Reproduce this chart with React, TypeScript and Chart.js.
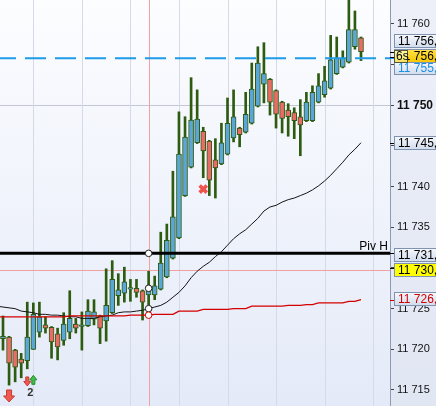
import React, { useEffect, useRef } from 'react';
import { Chart, registerables } from 'chart.js';

Chart.register(...registerables);

// ---- candle data (index 0..59) ----
const openP = [
  11721.3, 11721.5, 11719.9, 11718.8, 11718.6, 11720.0, 11722.1, 11723.0, 11722.7, 11721.9,
  11721.1, 11722.1, 11723.1, 11722.8, 11722.9, 11723.7, 11724.1, 11723.5, 11724.5, 11726.6,
  11726.9, 11727.4, 11727.5, 11727.2, 11726.7, 11726.7, 11727.4, 11728.9, 11731.2, 11733.7,
  11738.9, 11742.4, 11745.4, 11746.8, 11745.6, 11743.3, 11742.8, 11744.0, 11746.0, 11747.2,
  11746.7, 11747.8, 11749.9, 11752.6, 11753.2, 11751.8, 11750.4, 11749.4, 11749.1, 11748.6,
  11748.1, 11748.1, 11750.4, 11751.3, 11752.1, 11753.9, 11754.7, 11755.3, 11757.2, 11758.3,
];
const highP = [
  11724.1, 11721.6, 11720.0, 11719.5, 11725.8, 11725.7, 11725.8, 11724.0, 11722.8, 11722.6,
  11724.5, 11727.2, 11723.8, 11724.6, 11726.1, 11726.1, 11724.2, 11729.9, 11730.9, 11729.3,
  11730.1, 11728.6, 11728.6, 11727.3, 11729.6, 11729.0, 11734.4, 11735.4, 11741.9, 11749.2,
  11748.6, 11753.4, 11751.9, 11747.3, 11745.7, 11745.9, 11747.8, 11750.9, 11751.9, 11747.3,
  11751.6, 11755.2, 11757.2, 11757.7, 11753.3, 11751.9, 11750.5, 11750.2, 11749.7, 11750.7,
  11751.6, 11752.4, 11753.9, 11754.8, 11758.6, 11758.4, 11756.7, 11763.5, 11761.6, 11758.4,
];
const lowP = [
  11719.9, 11715.6, 11716.0, 11716.5, 11717.6, 11720.0, 11721.5, 11722.0, 11718.9, 11718.7,
  11720.5, 11721.3, 11722.0, 11719.9, 11722.8, 11723.0, 11720.7, 11721.0, 11724.4, 11725.4,
  11725.8, 11725.9, 11726.4, 11723.6, 11725.4, 11726.1, 11727.3, 11728.8, 11731.1, 11733.6,
  11738.8, 11742.3, 11745.3, 11741.1, 11738.9, 11738.6, 11742.7, 11743.9, 11745.5, 11744.9,
  11746.6, 11747.7, 11749.8, 11750.3, 11748.8, 11747.2, 11746.6, 11746.2, 11745.9, 11743.8,
  11748.0, 11748.0, 11750.3, 11751.0, 11752.0, 11753.8, 11754.6, 11755.2, 11756.9, 11755.5,
];
const closeP = [
  11721.6, 11718.3, 11717.8, 11718.3, 11721.5, 11724.3, 11724.0, 11722.6, 11720.9, 11720.3,
  11723.1, 11723.8, 11722.6, 11723.0, 11724.7, 11724.6, 11722.6, 11725.4, 11728.6, 11727.3,
  11728.3, 11727.6, 11727.0, 11725.8, 11727.5, 11727.8, 11730.6, 11733.4, 11736.3, 11744.0,
  11746.1, 11748.2, 11748.3, 11744.4, 11740.8, 11742.3, 11745.4, 11747.8, 11748.6, 11746.4,
  11748.9, 11752.0, 11755.2, 11753.9, 11750.4, 11748.9, 11748.4, 11748.6, 11748.1, 11747.6,
  11750.4, 11751.6, 11752.4, 11753.0, 11755.6, 11755.8, 11755.8, 11759.3, 11759.3, 11756.6,
];

// ---- moving averages (start one bar before candle 0) ----
const maStartIndex = -1;
const blackMA = [
  11725.3,
  11725.2, 11725.1, 11725.0, 11724.7, 11724.6, 11724.5, 11724.3, 11724.3, 11724.2, 11724.2,
  11724.1, 11724.0, 11724.0, 11723.8, 11723.8, 11723.8, 11724.0, 11724.1, 11724.2, 11724.5,
  11724.6, 11724.6, 11724.7, 11724.8, 11725.0, 11725.2, 11725.4, 11725.8, 11726.4, 11727.0,
  11727.8, 11728.8, 11729.6, 11730.2, 11730.7, 11731.4, 11732.0, 11732.8, 11733.6, 11734.2,
  11734.7, 11735.4, 11736.1, 11737.0, 11737.5, 11737.7, 11738.1, 11738.4, 11738.6, 11738.9,
  11739.2, 11739.6, 11740.1, 11740.7, 11741.4, 11742.2, 11743.0, 11743.9, 11744.6, 11745.4,
];
const redMA = [
  11724.0,
  11724.0, 11724.0, 11724.0, 11724.0, 11724.0, 11724.0, 11724.0, 11724.0, 11724.0, 11724.0,
  11724.0, 11724.1, 11724.1, 11724.1, 11724.1, 11724.1, 11724.1, 11724.1, 11724.1, 11724.1,
  11724.1, 11724.2, 11724.2, 11724.2, 11724.2, 11724.3, 11724.3, 11724.3, 11724.3, 11724.7,
  11724.7, 11724.7, 11724.7, 11724.9, 11724.9, 11724.9, 11724.9, 11724.9, 11725.0, 11725.0,
  11725.0, 11725.3, 11725.3, 11725.3, 11725.3, 11725.3, 11725.3, 11725.4, 11725.4, 11725.4,
  11725.5, 11725.5, 11725.7, 11725.7, 11725.7, 11725.7, 11725.7, 11725.9, 11725.9, 11726.1,
];

// ---- axes ----
const yMin = 11713.03;
const yMax = 11762.95;
const xMin = -0.494;
const xMax = 63.78;
const yTicks = [11715, 11720, 11725, 11730, 11735, 11740, 11745, 11750, 11755, 11760];
const boldTick = 11750;
const gridX = [5, 13, 21, 29, 37, 45, 53, 61];

// ---- levels & markers ----
const pivotH = 11731.8;
const pivotName = 'Piv H';
const dashedLevel = 11755.8;
const cursorIndex = 24;
const cursorPrice = 11729.8;
const crossIndex = 33;
const crossPrice = 11739.7;
const signalIndex = [1, 4, 5];
const signalPrice = [11715.0, 11716.6, 11716.8];
const signalDir = ['down', 'down', 'up'];
const countIndex = 4.5;
const countPrice = 11714.2;
const countText = '2';
const timerText = '6s';

// ---- right-axis value labels ----
const labelValues = [11755.8, 11756.6, 11756.0, 11745.4, 11731.8, 11730.0, 11726.1];
const labelLook = [
  { shift: 9, fill: 'plain', text: '#1a8fe3', tick: '#1a8fe3' },
  { shift: -11, fill: 'plain', text: '#000', tick: '#000' },
  { shift: -1, fill: 'gold', text: '#000', tick: '#000' },
  { shift: 0, fill: 'plain', text: '#000', tick: '#000' },
  { shift: 1, fill: 'plain', text: '#000', tick: '#000' },
  { shift: 2, fill: 'yellow', text: '#000', tick: '#000' },
  { shift: -1, fill: 'plain', text: '#d00000', tick: '#d00000' },
];

const FONT = "'Liberation Sans', Arial, Helvetica, sans-serif";
const UP = '#5aa7d7';
const DOWN = '#ea6c66';
const WICK = '#2d5b10';

const fmtNum = (v: number, d: number) => {
  const s = v.toFixed(d);
  const [ip, fp] = s.split('.');
  const sp = ip.replace(/\B(?=(\d{3})+(?!\d))/g, ' ');
  return fp !== undefined ? sp + ',' + fp : sp;
};

const overlay = {
  id: 'overlay',
  beforeDraw(chart: any) {
    const { ctx, chartArea: a, width, height } = chart;
    ctx.save();
    const g1 = ctx.createLinearGradient(0, 0, 0, height);
    g1.addColorStop(0, '#edf0f9');
    g1.addColorStop(1, '#e1e6f3');
    ctx.fillStyle = g1;
    ctx.fillRect(0, 0, width, height);
    const g2 = ctx.createLinearGradient(0, a.top, 0, a.bottom);
    g2.addColorStop(0, '#fcfdff');
    g2.addColorStop(1, '#e4eaf8');
    ctx.fillStyle = g2;
    ctx.fillRect(a.left, a.top, a.right - a.left, a.bottom - a.top);
    ctx.restore();
  },
  beforeDatasetsDraw(chart: any) {
    const { ctx, chartArea: a, scales } = chart;
    const x = scales.x, y = scales.y;
    ctx.save();
    ctx.lineWidth = 1;
    ctx.strokeStyle = '#d5dae8';
    gridX.forEach((g) => {
      const px = Math.round(x.getPixelForValue(g)) + 0.5;
      ctx.beginPath();
      ctx.moveTo(px, a.top);
      ctx.lineTo(px, a.bottom);
      ctx.stroke();
    });
    ctx.strokeStyle = '#f3a0a0';
    const cx = Math.round(x.getPixelForValue(cursorIndex)) + 0.5;
    ctx.beginPath();
    ctx.moveTo(cx, a.top);
    ctx.lineTo(cx, a.bottom);
    ctx.stroke();
    const cy = Math.round(y.getPixelForValue(cursorPrice)) + 0.5;
    ctx.beginPath();
    ctx.moveTo(a.left, cy);
    ctx.lineTo(a.right, cy);
    ctx.stroke();
    ctx.restore();
  },
  afterDatasetsDraw(chart: any) {
    const { ctx, chartArea: a, scales } = chart;
    const x = scales.x, y = scales.y;
    ctx.save();
    ctx.beginPath();
    ctx.rect(a.left, a.top, a.right - a.left, a.bottom - a.top);
    ctx.clip();

    // pivot line
    const py = y.getPixelForValue(pivotH);
    ctx.strokeStyle = '#000';
    ctx.lineWidth = 3;
    ctx.beginPath();
    ctx.moveTo(a.left, py);
    ctx.lineTo(a.right, py);
    ctx.stroke();
    ctx.fillStyle = '#000';
    ctx.font = `12px ${FONT}`;
    ctx.textAlign = 'right';
    ctx.textBaseline = 'alphabetic';
    ctx.fillText(pivotName, a.right - 2, py - 3);

    // dashed level
    const dy = y.getPixelForValue(dashedLevel);
    ctx.strokeStyle = '#1e9be9';
    ctx.lineWidth = 2;
    ctx.setLineDash([21, 9]);
    ctx.lineDashOffset = 5;
    ctx.beginPath();
    ctx.moveTo(a.left, dy);
    ctx.lineTo(a.right, dy);
    ctx.stroke();
    ctx.setLineDash([]);

    // cursor circles
    const cx = x.getPixelForValue(cursorIndex);
    const circ = [
      { v: pivotH, c: '#222' },
      { v: closeP[cursorIndex], c: '#222' },
      { v: blackMA[cursorIndex - maStartIndex], c: '#222' },
      { v: redMA[cursorIndex - maStartIndex], c: '#d40000' },
    ];
    circ.forEach((o) => {
      ctx.beginPath();
      ctx.arc(cx, y.getPixelForValue(o.v), 3.3, 0, Math.PI * 2);
      ctx.fillStyle = '#fff';
      ctx.fill();
      ctx.lineWidth = 1;
      ctx.strokeStyle = o.c;
      ctx.stroke();
    });

    // signal arrows
    signalIndex.forEach((si, k) => {
      const ax = x.getPixelForValue(si);
      const ay = y.getPixelForValue(signalPrice[k]);
      const big = k === 0;
      const w = big ? 11 : 7;
      const h = big ? 12 : 9;
      const sw = big ? 5 : 3;
      ctx.beginPath();
      if (signalDir[k] === 'down') {
        ctx.moveTo(ax - sw / 2, ay);
        ctx.lineTo(ax + sw / 2, ay);
        ctx.lineTo(ax + sw / 2, ay + h * 0.5);
        ctx.lineTo(ax + w / 2, ay + h * 0.5);
        ctx.lineTo(ax, ay + h);
        ctx.lineTo(ax - w / 2, ay + h * 0.5);
        ctx.lineTo(ax - sw / 2, ay + h * 0.5);
        ctx.closePath();
        ctx.fillStyle = '#ef5a50';
        ctx.strokeStyle = '#c43a30';
      } else {
        ctx.moveTo(ax, ay);
        ctx.lineTo(ax + w / 2, ay + h * 0.5);
        ctx.lineTo(ax + sw / 2, ay + h * 0.5);
        ctx.lineTo(ax + sw / 2, ay + h);
        ctx.lineTo(ax - sw / 2, ay + h);
        ctx.lineTo(ax - sw / 2, ay + h * 0.5);
        ctx.lineTo(ax - w / 2, ay + h * 0.5);
        ctx.closePath();
        ctx.fillStyle = '#3fc04a';
        ctx.strokeStyle = '#248a2c';
      }
      ctx.fill();
      ctx.lineWidth = 1;
      ctx.stroke();
    });
    ctx.fillStyle = '#333';
    ctx.font = `bold 11px ${FONT}`;
    ctx.textAlign = 'center';
    ctx.fillText(countText, x.getPixelForValue(countIndex), y.getPixelForValue(countPrice));
    ctx.restore();

    // right-axis labels
    ctx.save();
    const bx = a.right + 4;
    const bh = 13;
    labelValues.forEach((v, k) => {
      const look = labelLook[k];
      const vy = y.getPixelForValue(v);
      ctx.strokeStyle = look.tick;
      ctx.lineWidth = 1;
      ctx.beginPath();
      ctx.moveTo(a.right, Math.round(vy) + 0.5);
      ctx.lineTo(bx, Math.round(vy) + 0.5);
      ctx.stroke();
      const top = Math.round(vy + look.shift - bh / 2) + 0.5;
      let fill: any;
      if (look.fill === 'plain') {
        fill = ctx.createLinearGradient(0, top, 0, top + bh);
        fill.addColorStop(0, '#f6f8fd');
        fill.addColorStop(1, '#d2dcec');
      } else if (look.fill === 'gold') {
        fill = ctx.createLinearGradient(0, top, 0, top + bh);
        fill.addColorStop(0, '#ffe04a');
        fill.addColorStop(1, '#f6c800');
      } else {
        fill = '#ffff00';
      }
      ctx.fillStyle = fill;
      ctx.fillRect(bx + 0.5, top, 60, bh);
      ctx.strokeStyle = '#7f92b0';
      ctx.strokeRect(bx + 0.5, top, 60, bh);
      ctx.fillStyle = look.text;
      ctx.font = `12px ${FONT}`;
      ctx.textAlign = 'left';
      ctx.textBaseline = 'middle';
      ctx.fillText(fmtNum(v, 1), bx + 4, top + bh / 2 + 0.5);
    });
    // timer box over the gold label
    const gy = y.getPixelForValue(labelValues[2]) + labelLook[2].shift;
    const tt = Math.round(gy - 6) + 0.5;
    const tg = ctx.createLinearGradient(0, tt, 0, tt + 12);
    tg.addColorStop(0, '#fff9a8');
    tg.addColorStop(1, '#f3e060');
    ctx.fillStyle = tg;
    ctx.fillRect(bx + 0.5, tt, 13, 12);
    ctx.strokeStyle = '#55553a';
    ctx.strokeRect(bx + 0.5, tt, 13, 12);
    ctx.fillStyle = '#000';
    ctx.font = `12px ${FONT}`;
    ctx.textAlign = 'left';
    ctx.textBaseline = 'middle';
    ctx.fillText(timerText, bx + 2, tt + 6.5);
    ctx.restore();
  },
};

export default function App() {
  const ref = useRef<HTMLCanvasElement>(null);
  useEffect(() => {
    document.body.style.margin = '0';
    const canvas = ref.current;
    if (!canvas) return;
    Chart.defaults.font.family = FONT;
    const idx = openP.map((_, i) => i);
    const chart = new Chart(canvas, {
      type: 'bar',
      data: {
        datasets: [
          {
            type: 'line',
            label: 'red',
            data: redMA.map((v, k) => ({ x: k + maStartIndex, y: v })),
            borderColor: '#d40000',
            borderWidth: 1.3,
            pointRadius: 0,
            tension: 0,
            order: 0,
          },
          {
            type: 'line',
            label: 'black',
            data: blackMA.map((v, k) => ({ x: k + maStartIndex, y: v })),
            borderColor: '#151515',
            borderWidth: 1,
            pointRadius: 0,
            tension: 0,
            order: 0,
          },
          {
            type: 'line',
            label: 'cross',
            data: [{ x: crossIndex, y: crossPrice }],
            showLine: false,
            pointStyle: 'crossRot',
            pointRadius: 5,
            pointBorderWidth: 3.6,
            pointBorderColor: '#f0524c',
            pointBackgroundColor: '#f0524c',
            order: 0,
          },
          {
            type: 'bar',
            label: 'bodies',
            data: idx.map((i) => ({ x: i, y: [openP[i], closeP[i]] })),
            backgroundColor: idx.map((i) => (closeP[i] >= openP[i] ? UP : DOWN)),
            borderColor: WICK,
            borderWidth: 1,
            borderSkipped: false,
            barThickness: 5,
            maxBarThickness: 5,
            grouped: false,
            order: 1,
          },
          {
            type: 'bar',
            label: 'wicks',
            data: idx.map((i) => ({ x: i, y: [lowP[i], highP[i]] })),
            backgroundColor: WICK,
            borderWidth: 0,
            barThickness: 2,
            maxBarThickness: 2,
            grouped: false,
            order: 2,
          },
        ] as any,
      },
      options: {
        animation: false,
        responsive: false,
        devicePixelRatio: 1,
        events: [],
        layout: { padding: 0, autoPadding: false },
        plugins: { legend: { display: false }, tooltip: { enabled: false } },
        scales: {
          x: { type: 'linear', display: false, min: xMin, max: xMax, offset: false },
          y: {
            type: 'linear',
            position: 'right',
            min: yMin,
            max: yMax,
            afterBuildTicks: (s: any) => {
              s.ticks = yTicks.map((v) => ({ value: v }));
            },
            afterFit: (s: any) => {
              s.width = 46;
              s.paddingTop = 0;
              s.paddingBottom = 0;
            },
            ticks: {
              autoSkip: false,
              padding: 3,
              color: '#111',
              callback: (v: any) => fmtNum(Number(v), 0),
              font: (c: any) =>
                c.tick && c.tick.value === boldTick
                  ? { family: FONT, size: 12, weight: 'bold' }
                  : { family: FONT, size: 11 },
            },
            grid: {
              color: (c: any) => (c.tick && c.tick.value === boldTick ? '#c3c7d3' : 'rgba(0,0,0,0)'),
              tickColor: '#444',
              tickLength: 4,
              lineWidth: 1,
            },
            border: { display: true, color: '#8c9ab3', width: 1 },
          },
        } as any,
      },
      plugins: [overlay],
    });
    return () => chart.destroy();
  }, []);
  return <canvas ref={ref} width={436} height={406} style={{ display: 'block' }} />;
}
